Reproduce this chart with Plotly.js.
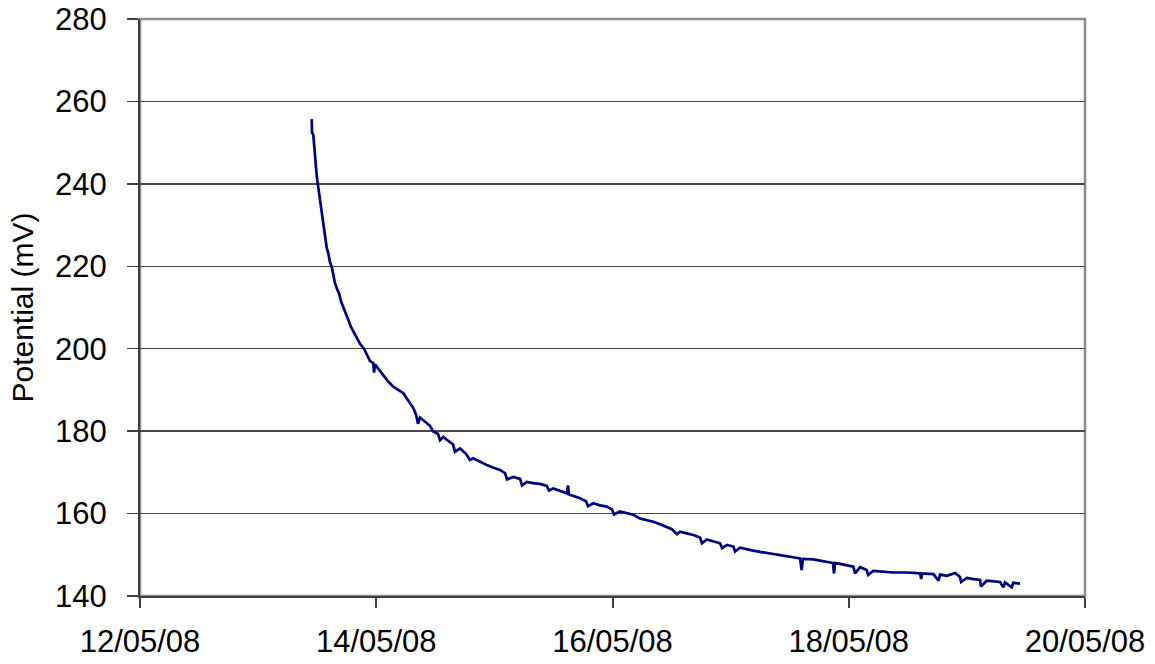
<!DOCTYPE html>
<html>
<head>
<meta charset="utf-8">
<script src="https://cdn.plot.ly/plotly-3.0.1.min.js"></script>
<style>
  html, body { margin: 0; padding: 0; background: #ffffff; }
  #chart { width: 1155px; height: 664px; }
</style>
</head>
<body>
<div id="chart"></div>
<script>
// Logged electrode potential (mV) against time
const times = [
  '2008-05-13 10:53', '2008-05-13 10:57', '2008-05-13 11:13', '2008-05-13 11:27', '2008-05-13 11:33',
  '2008-05-13 11:52', '2008-05-13 12:01', '2008-05-13 12:18', '2008-05-13 12:34', '2008-05-13 12:53',
  '2008-05-13 13:07', '2008-05-13 13:23', '2008-05-13 13:35', '2008-05-13 13:56', '2008-05-13 14:15',
  '2008-05-13 14:36', '2008-05-13 14:57', '2008-05-13 15:16', '2008-05-13 15:37', '2008-05-13 16:02',
  '2008-05-13 16:29', '2008-05-13 16:50', '2008-05-13 17:18', '2008-05-13 17:45', '2008-05-13 18:19',
  '2008-05-13 18:52', '2008-05-13 19:20', '2008-05-13 20:02', '2008-05-13 20:42', '2008-05-13 21:34',
  '2008-05-13 22:20', '2008-05-13 22:44', '2008-05-13 23:24', '2008-05-13 23:33', '2008-05-13 23:45',
  '2008-05-14 00:28', '2008-05-14 01:26', '2008-05-14 02:23', '2008-05-14 03:28', '2008-05-14 04:25',
  '2008-05-14 05:30', '2008-05-14 06:11', '2008-05-14 06:51', '2008-05-14 07:32', '2008-05-14 08:05',
  '2008-05-14 08:29', '2008-05-14 08:53', '2008-05-14 09:54', '2008-05-14 10:55', '2008-05-14 11:35',
  '2008-05-14 12:33', '2008-05-14 12:57', '2008-05-14 13:38', '2008-05-14 14:19', '2008-05-14 15:36',
  '2008-05-14 16:00', '2008-05-14 17:01', '2008-05-14 18:14', '2008-05-14 19:03', '2008-05-14 19:43',
  '2008-05-14 21:05', '2008-05-14 22:26', '2008-05-14 23:43', '2008-05-15 01:08', '2008-05-15 02:10',
  '2008-05-15 02:34', '2008-05-15 03:51', '2008-05-15 05:13', '2008-05-15 05:37', '2008-05-15 06:34',
  '2008-05-15 07:51', '2008-05-15 09:16', '2008-05-15 10:38', '2008-05-15 11:06', '2008-05-15 11:58',
  '2008-05-15 13:20', '2008-05-15 14:45', '2008-05-15 14:58', '2008-05-15 15:10', '2008-05-15 17:24',
  '2008-05-15 18:37', '2008-05-15 19:01', '2008-05-15 20:06', '2008-05-15 21:28', '2008-05-15 22:49',
  '2008-05-15 23:54', '2008-05-16 00:18', '2008-05-16 01:31', '2008-05-16 02:57', '2008-05-16 04:14',
  '2008-05-16 05:35', '2008-05-16 06:57', '2008-05-16 08:18', '2008-05-16 09:39', '2008-05-16 11:01',
  '2008-05-16 12:05', '2008-05-16 13:07', '2008-05-16 13:43', '2008-05-16 15:05', '2008-05-16 16:25',
  '2008-05-16 17:47', '2008-05-16 18:11', '2008-05-16 19:09', '2008-05-16 20:26', '2008-05-16 21:51',
  '2008-05-16 22:16', '2008-05-16 23:17', '2008-05-17 00:34', '2008-05-17 00:54', '2008-05-17 01:55',
  '2008-05-17 03:17', '2008-05-17 04:34', '2008-05-17 05:59', '2008-05-17 07:12', '2008-05-17 08:41',
  '2008-05-17 10:03', '2008-05-17 11:24', '2008-05-17 12:41', '2008-05-17 14:07', '2008-05-17 14:25',
  '2008-05-17 14:43', '2008-05-17 16:49', '2008-05-17 18:11', '2008-05-17 19:31', '2008-05-17 20:48',
  '2008-05-17 21:00', '2008-05-17 21:13', '2008-05-17 22:14', '2008-05-17 23:27', '2008-05-18 00:56',
  '2008-05-18 01:17', '2008-05-18 02:18', '2008-05-18 03:40', '2008-05-18 03:56', '2008-05-18 04:57',
  '2008-05-18 06:22', '2008-05-18 07:35', '2008-05-18 09:05', '2008-05-18 11:48', '2008-05-18 14:30',
  '2008-05-18 14:43', '2008-05-18 14:55', '2008-05-18 17:13', '2008-05-18 18:14', '2008-05-18 18:34',
  '2008-05-18 19:56', '2008-05-18 21:37', '2008-05-18 22:36', '2008-05-18 22:49', '2008-05-18 23:58',
  '2008-05-19 01:19', '2008-05-19 02:40', '2008-05-19 02:52', '2008-05-19 04:02', '2008-05-19 06:44',
  '2008-05-19 07:25', '2008-05-19 07:45', '2008-05-19 09:07', '2008-05-19 09:26', '2008-05-19 10:48'
];

const potential = [
  255.7, 252.5, 251.8, 247.5, 246.3,
  242.5, 240.9, 238.5, 236.1, 232.5,
  230.5, 228.5, 227.2, 224.5, 223.2,
  221.0, 219.9, 217.8, 215.9, 214.5,
  213.3, 211.5, 210.2, 208.5, 207.0,
  205.3, 204.3, 202.9, 201.2, 199.9,
  198.2, 197.0, 196.5, 194.2, 196.2,
  195.0, 193.6, 192.1, 190.8, 190.0,
  189.2, 188.0, 186.7, 185.6, 184.0,
  181.8, 183.3, 182.2, 181.3, 179.9,
  179.3, 177.8, 178.6, 177.9, 176.8,
  175.0, 175.8, 174.5, 173.0, 173.4,
  172.5, 171.8, 171.2, 170.6, 169.8,
  168.3, 168.9, 168.4, 166.8, 167.7,
  167.4, 167.2, 166.7, 165.6, 166.1,
  165.6, 164.9, 166.8, 164.6, 163.7,
  163.0, 161.8, 162.5, 162.0, 161.7,
  161.0, 159.8, 160.5, 160.0, 159.7,
  158.8, 158.4, 158.0, 157.4, 156.8,
  156.2, 155.0, 155.6, 155.2, 154.8,
  154.2, 152.8, 153.7, 153.3, 152.8,
  151.6, 152.4, 152.0, 150.8, 151.7,
  151.3, 151.0, 150.7, 150.4, 150.2,
  149.9, 149.7, 149.4, 149.1, 146.3,
  149.0, 148.9, 148.6, 148.3, 148.0,
  145.5, 148.0, 147.8, 147.5, 147.1,
  145.5, 147.0, 146.3, 145.1, 146.1,
  145.9, 145.8, 145.7, 145.7, 145.5,
  144.1, 145.5, 145.3, 143.7, 145.2,
  144.9, 145.6, 144.6, 143.4, 144.4,
  144.1, 143.9, 142.3, 143.7, 143.4,
  142.1, 143.3, 142.1, 143.2, 143.0
];

const yTicks = [140, 160, 180, 200, 220, 240, 260, 280];
const xTicks = ['2008-05-12', '2008-05-14', '2008-05-16', '2008-05-18', '2008-05-20'];
const xTickText = ['12/05/08', '14/05/08', '16/05/08', '18/05/08', '20/05/08'];

const font = { family: 'Liberation Sans, Arial, sans-serif', size: 31, color: '#000000' };

const trace = {
  type: 'scatter',
  mode: 'lines',
  x: times,
  y: potential,
  line: { color: '#000080', width: 2.7 },
  hoverinfo: 'x+y'
};

const layout = {
  width: 1155,
  height: 664,
  margin: { l: 140, r: 70, t: 19, b: 68 },
  paper_bgcolor: '#ffffff',
  plot_bgcolor: '#ffffff',
  font: font,
  showlegend: false,
  xaxis: {
    type: 'date',
    range: ['2008-05-12', '2008-05-20'],
    tickmode: 'array',
    tickvals: xTicks,
    ticktext: xTickText,
    showgrid: false,
    zeroline: false,
    showline: true,
    linecolor: '#404040',
    linewidth: 2,
    ticks: 'outside',
    ticklen: 10,
    tickwidth: 2,
    tickcolor: '#404040',
    ticklabelstandoff: 7,
    tickfont: font
  },
  yaxis: {
    range: [140, 280],
    tickmode: 'array',
    tickvals: yTicks,
    showgrid: true,
    gridcolor: '#484848',
    gridwidth: 1.5,
    zeroline: false,
    showline: true,
    linecolor: '#404040',
    linewidth: 2,
    ticks: 'outside',
    ticklen: 11,
    tickwidth: 1.5,
    tickcolor: '#404040',
    ticklabelstandoff: 14,
    tickfont: font,
    title: { text: 'Potential (mV)', font: { family: font.family, size: 30, color: '#000000' }, standoff: 13 }
  },
  shapes: [{
    type: 'rect', xref: 'paper', yref: 'paper',
    x0: 0, x1: 1, y0: 0, y1: 1,
    line: { color: '#8c8c8c', width: 2.5 },
    layer: 'below'
  }]
};

Plotly.newPlot('chart', [trace], layout, { displayModeBar: false, staticPlot: true });
</script>
</body>
</html>
